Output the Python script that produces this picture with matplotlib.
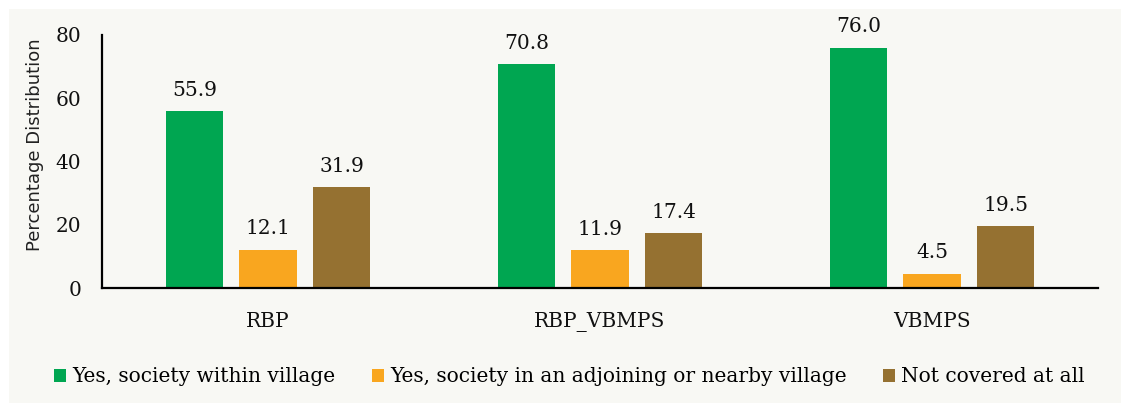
import numpy as np
import matplotlib.pyplot as plt
from matplotlib.patches import Rectangle

# données
categories = ["RBP", "RBP_VBMPS", "VBMPS"]
series_names = ["Yes, society within village",
                "Yes, society in an adjoining or nearby village",
                "Not covered at all"]
within_village = [55.9, 70.8, 76.0]
nearby_village = [12.1, 11.9, 4.5]
not_covered = [31.9, 17.4, 19.5]
y_ticks = [0, 20, 40, 60, 80]

colors = ["#00A651", "#F9A61F", "#957131"]
panel_color = "#F8F8F4"
serif = "DejaVu Serif"
fs = 14.5

fig = plt.figure(figsize=(11.21, 4.03), dpi=100)
fig.patch.set_facecolor("white")
# fond du panneau légèrement grisé
fig.patches.append(Rectangle((9 / 1121, 0), 1, 1 - 9 / 403, transform=fig.transFigure,
                             facecolor=panel_color, edgecolor="none", zorder=-10))

ax = fig.add_axes([102 / 1121, 115 / 403, 996 / 1121, 253 / 403])
ax.set_facecolor("none")

x = np.arange(len(categories))
width = 0.172
step = 0.222
all_series = [within_village, nearby_village, not_covered]

for i, (vals, name, col) in enumerate(zip(all_series, series_names, colors)):
    bars = ax.bar(x + (i - 1) * step, vals, width, color=col, label=name)
    for b, v in zip(bars, vals):
        ax.annotate(f"{v:.1f}", (b.get_x() + b.get_width() / 2, v),
                    xytext=(0, 15), textcoords="offset points",
                    ha="center", va="center", fontsize=fs,
                    family=serif, color="#111111")

ax.set_xlim(-0.5, 2.5)
ax.set_ylim(0, 80)
ax.set_yticks(y_ticks)
ax.set_yticklabels([str(t) for t in y_ticks], family=serif, fontsize=fs)
ax.set_xticks(x)
ax.set_xticklabels(categories, family=serif, fontsize=fs)
ax.tick_params(axis="both", length=0, colors="#111111")
ax.tick_params(axis="y", pad=15)
ax.tick_params(axis="x", pad=17)

for side in ["top", "right"]:
    ax.spines[side].set_visible(False)
ax.spines["left"].set_linewidth(1.6)
ax.spines["bottom"].set_linewidth(1.6)

ax.set_ylabel("Percentage Distribution", family="DejaVu Sans", fontsize=13,
              color="#222222")
ax.yaxis.set_label_coords(-0.058, 0.565)

fig.legend(loc="center", bbox_to_anchor=(0.508, 1 - 377 / 403), ncol=3, frameon=False,
           prop={"family": serif, "size": fs},
           handlelength=0.6, handleheight=0.6, handletextpad=0.3, columnspacing=1.8)

fig.savefig("out.png", dpi=100, facecolor=fig.get_facecolor())
